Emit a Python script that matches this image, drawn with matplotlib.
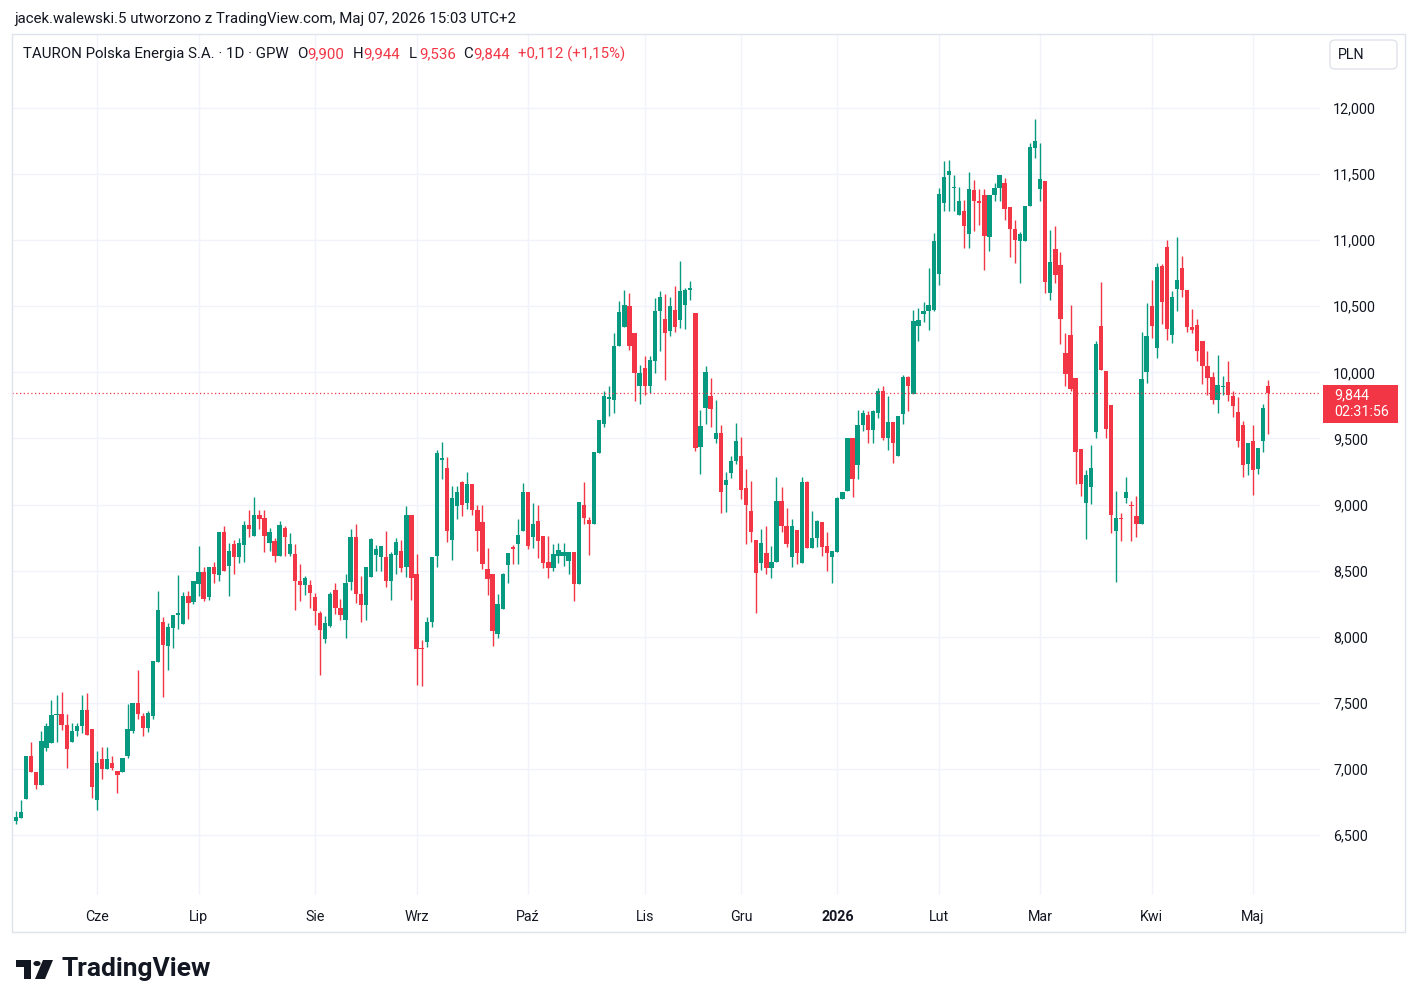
import numpy as np
import matplotlib.pyplot as plt
from matplotlib.patches import Rectangle, FancyBboxPatch, Polygon, Circle

W, H = 1417, 1007

# daily OHLC (PLN)
opens = [6606, 6626, 6775, 7099, 6977, 6879, 7157, 7194, 7407, 7414, 7331, 7205, 7283, 7321, 7447, 7305,
         6763, 7073, 6998, 7048, 6985, 6977, 7100, 7290, 7500, 7400, 7310, 7400, 7806, 8109, 7932, 8066,
         8167, 8096, 8311, 8260, 8399, 8492, 8303, 8530, 8470, 8790, 8533, 8702, 8604, 8697, 8843, 8760,
         8919, 8899, 8710, 8727, 8609, 8823, 8626, 8626, 8424, 8394, 8394, 8298, 8179, 7985, 8081, 8350,
         8220, 8125, 8413, 8758, 8320, 8238, 8455, 8620, 8600, 8605, 8425, 8620, 8645, 8525, 8920, 8475,
         7912, 7963, 8113, 8613, 9338, 9277, 8728, 8987, 9171, 9013, 9156, 8962, 8869, 8514, 8471, 8017,
         8206, 8541, 8677, 8698, 8798, 9096, 8753, 8879, 8760, 8567, 8522, 8610, 8607, 8572, 8643, 8401,
         8996, 8880, 8854, 9391, 9610, 9800, 9794, 10198, 10341, 10500, 10298, 9895, 10034, 9894, 10083, 10462,
         10404, 10316, 10475, 10399, 10513, 10626, 10450, 9432, 9730, 9818, 9498, 9541, 9149, 9238, 9326, 9371,
         9124, 8952, 8730, 8560, 8630, 8518, 8568, 9025, 8835, 8605, 8805, 8560, 9168, 8668, 8750, 8868,
         8685, 8605, 8643, 9043, 9100, 9505, 9300, 9605, 9681, 9567, 9693, 9862, 9504, 9625, 9366, 9688,
         9963, 9837, 10348, 10442, 10462, 10474, 10744, 11281, 11495, 11395, 11193, 11218, 11043, 11383, 11300, 11343,
         11025, 11343, 11393, 11433, 11250, 11083, 10993, 10993, 11258, 11700, 11388, 11450, 10600, 10933, 10813, 10149,
         10283, 9960, 9417, 9013, 9131, 9551, 10351, 10010, 9753, 8798, 8899, 9051, 9000, 8912, 8854, 10005,
         10503, 10187, 10806, 10950, 10281, 10628, 10787, 10620, 10342, 10357, 10236, 10046, 9963, 9793, 9890, 9927,
         9818, 9700, 9598, 9305, 9477, 9270, 9482, 9900]
highs = [6682, 6765, 7099, 7200, 6977, 7288, 7346, 7523, 7561, 7583, 7414, 7351, 7346, 7558, 7571, 7305,
         7136, 7162, 7167, 7098, 6985, 7086, 7490, 7500, 7748, 7420, 7440, 7818, 8349, 8152, 8101, 8167,
         8470, 8341, 8349, 8419, 8689, 8530, 8530, 8563, 8790, 8841, 8710, 8735, 8747, 8879, 8962, 9056,
         8955, 8955, 8823, 8750, 8879, 8836, 8785, 8702, 8551, 8457, 8432, 8331, 8197, 8154, 8338, 8405,
         8288, 8475, 8813, 8855, 8463, 8525, 8745, 8695, 8688, 8800, 8638, 8750, 8730, 8988, 8920, 8625,
         7975, 8150, 8605, 9413, 9474, 9358, 9139, 9139, 9181, 9247, 9156, 9000, 9000, 8672, 8471, 8320,
         8483, 8635, 8693, 8887, 9164, 9096, 9013, 9000, 8760, 8761, 8698, 8711, 8711, 8643, 8643, 9021,
         9172, 8905, 9399, 9643, 9857, 9895, 10298, 10543, 10626, 10601, 10298, 10054, 10122, 10121, 10563, 10619,
         10593, 10568, 10651, 10841, 10639, 10689, 10450, 9717, 10046, 9957, 9793, 9604, 9245, 9364, 9616, 9508,
         9270, 9179, 8730, 8818, 8835, 8685, 9205, 9135, 8975, 8893, 8805, 9205, 9180, 8950, 8880, 8868,
         8793, 8650, 9060, 9093, 9505, 9505, 9718, 9718, 9706, 9718, 9882, 9895, 9819, 9625, 9668, 9978,
         9970, 10474, 10487, 10532, 10789, 11054, 11394, 11596, 11608, 11495, 11399, 11306, 11518, 11458, 11388, 11388,
         11343, 11433, 11493, 11468, 11250, 11150, 11063, 11258, 11738, 11913, 11738, 11450, 11075, 11108, 10914, 10301,
         10510, 9960, 9417, 9265, 9450, 10237, 10687, 10010, 9753, 9106, 8937, 9207, 9025, 9063, 10308, 10528,
         10697, 10831, 10823, 11000, 10615, 11025, 10881, 10620, 10476, 10400, 10236, 10160, 10003, 10135, 9970, 10089,
         9856, 9811, 9634, 9464, 9603, 9431, 9760, 9944]
lows = [6581, 6626, 6770, 6977, 6846, 6879, 7136, 7194, 7207, 7293, 7005, 7205, 7250, 7275, 7255, 6778,
        6687, 6922, 6998, 6990, 6816, 6977, 7080, 7270, 7380, 7250, 7280, 7380, 7806, 7546, 7748, 7914,
        8058, 8096, 8134, 8250, 8311, 8268, 8280, 8404, 8424, 8500, 8306, 8475, 8558, 8566, 8753, 8760,
        8818, 8641, 8647, 8566, 8609, 8609, 8609, 8205, 8273, 8318, 8217, 8091, 7707, 7952, 8075, 8175,
        8125, 7988, 8350, 8255, 8113, 8125, 8455, 8500, 8500, 8375, 8275, 8475, 8488, 8455, 8280, 7638,
        7625, 7920, 8075, 8525, 9197, 8718, 8577, 8887, 8912, 8970, 8924, 8652, 8509, 8315, 7929, 7992,
        8206, 8408, 8551, 8551, 8798, 8660, 8672, 8597, 8521, 8446, 8497, 8560, 8535, 8476, 8270, 8401,
        8849, 8618, 8854, 9391, 9585, 9668, 9694, 10198, 10341, 10172, 9787, 9757, 9832, 9843, 9995, 10164,
        9945, 10273, 10306, 10336, 10331, 10550, 9407, 9230, 9609, 9583, 9465, 8935, 8942, 9200, 9306, 9043,
        8700, 8720, 8180, 8505, 8475, 8443, 8568, 8793, 8675, 8530, 8550, 8560, 8668, 8668, 8680, 8610,
        8500, 8410, 8643, 9043, 9100, 9055, 9193, 9555, 9466, 9466, 9655, 9492, 9416, 9315, 9366, 9610,
        9706, 9837, 10240, 10381, 10323, 10462, 10663, 11218, 11218, 11218, 11193, 10941, 10938, 11068, 11118, 10775,
        10918, 11300, 11300, 11150, 10875, 10825, 10675, 10993, 11258, 11625, 11300, 10600, 10550, 10675, 10212, 9897,
        9859, 9157, 9063, 8743, 9005, 9500, 10015, 9500, 8786, 8414, 8722, 9013, 8722, 8753, 8854, 9922,
        10263, 10111, 10364, 10242, 10223, 10464, 10570, 10307, 10299, 10084, 9912, 9831, 9760, 9692, 9831, 9786,
        9659, 9439, 9211, 9224, 9072, 9229, 9401, 9536]
closes = [6639, 6674, 7099, 6977, 6879, 7212, 7321, 7407, 7414, 7331, 7149, 7283, 7321, 7447, 7255, 6866,
          7048, 6998, 7073, 7005, 6952, 7086, 7300, 7500, 7414, 7310, 7424, 7818, 8205, 7940, 8071, 8167,
          8177, 8311, 8253, 8419, 8492, 8285, 8530, 8475, 8790, 8500, 8647, 8604, 8710, 8843, 8818, 8919,
          8894, 8760, 8793, 8614, 8843, 8753, 8702, 8419, 8394, 8444, 8331, 8197, 8053, 8104, 8323, 8220,
          8163, 8405, 8758, 8320, 8238, 8525, 8738, 8663, 8688, 8425, 8625, 8720, 8520, 8920, 8445, 7905,
          7905, 8113, 8605, 9388, 9353, 8798, 9050, 9096, 9000, 9156, 8955, 8803, 8551, 8433, 8047, 8244,
          8471, 8635, 8667, 8773, 9096, 8685, 8854, 8723, 8559, 8522, 8628, 8653, 8643, 8643, 8401, 9021,
          8895, 8854, 9399, 9643, 9820, 9805, 10198, 10457, 10508, 10198, 9996, 9996, 9895, 10096, 10462, 10568,
          10298, 10500, 10341, 10619, 10626, 10634, 9427, 9591, 10003, 9725, 9541, 9094, 9187, 9326, 9482, 9111,
          8993, 8791, 8485, 8710, 8518, 8568, 9030, 8835, 8705, 8835, 8630, 9168, 8668, 8748, 8875, 8680,
          8630, 8650, 9050, 9093, 9505, 9193, 9600, 9693, 9567, 9706, 9862, 9504, 9625, 9466, 9668, 9963,
          9895, 10386, 10399, 10467, 10507, 10991, 11349, 11475, 11525, 11400, 11293, 11104, 11388, 11300, 11283, 11033,
          11343, 11393, 11493, 11238, 11083, 11000, 11050, 11258, 11708, 11750, 11463, 10683, 10833, 10738, 10402, 9985,
          9871, 9399, 9152, 9227, 9278, 10212, 10015, 9568, 8919, 8899, 8887, 9096, 8988, 8854, 9947, 10275,
          10351, 10798, 10535, 10326, 10570, 10696, 10620, 10342, 10317, 10160, 10046, 9958, 9793, 9902, 9898, 9826,
          9743, 9477, 9300, 9464, 9262, 9431, 9730, 9844]

month_labels = ["Cze", "Lip", "Sie", "Wrz", "Paź", "Lis", "Gru", "2026", "Lut", "Mar", "Kwi", "Maj"]
month_first_bar = [16, 36, 59, 79, 101, 124, 143, 162, 182, 202, 224, 244]
price_ticks = [6500, 7000, 7500, 8000, 8500, 9000, 9500, 10000, 10500, 11000, 11500, 12000]
last_price = 9844
countdown = "02:31:56"

GREEN = "#089981"
RED = "#f23645"
TEXT = "#131722"
GRID = "#f0f3fa"
FONT = "Roboto"

plt.rcParams["font.family"] = [FONT, "DejaVu Sans"]


def fx(px):
    return px / W


def fy(py):
    return 1 - py / H


fig = plt.figure(figsize=(W / 100, H / 100), dpi=100)
fig.patch.set_facecolor("white")

# outer chart frame
fig.patches.append(Rectangle((fx(12), fy(932)), fx(1405) - fx(12), fy(34) - fy(932),
                             transform=fig.transFigure, fill=False, edgecolor="#e0e3eb", lw=1))

ax = fig.add_axes([fx(12), fy(895), fx(1320) - fx(12), fy(34) - fy(895)])
step = 5.07
ax.set_xlim((12 - 16) / step, (1320 - 16) / step)
ax.set_ylim(12000 - (895 - 108) / 0.13218, 12000 + (108 - 34) / 0.13218)
for s in ax.spines.values():
    s.set_visible(False)

ax.set_yticks(price_ticks)
ax.set_yticklabels([f"{p:,}" for p in price_ticks])
ax.yaxis.tick_right()
ax.tick_params(axis="y", length=0, pad=9.5, labelsize=10.3, labelcolor=TEXT)
ax.set_xticks(month_first_bar)
ax.set_xticklabels(month_labels)
ax.tick_params(axis="x", length=0, pad=10.5, labelsize=10.3, labelcolor=TEXT)
for lbl in ax.get_xticklabels():
    if lbl.get_text().isdigit():
        lbl.set_fontweight("bold")
ax.grid(True, color=GRID, lw=1)
ax.set_axisbelow(True)

o = np.array(opens, dtype=float)
h = np.array(highs, dtype=float)
l = np.array(lows, dtype=float)
c = np.array(closes, dtype=float)
x = np.arange(len(o))
cols = np.where(c >= o, GREEN, RED)

ax.vlines(x, l, h, colors=cols, lw=1)
ax.bar(x, np.maximum(np.abs(c - o), 10), bottom=np.minimum(o, c), width=0.85, color=cols, lw=0)

ax.axhline(last_price, color=RED, lw=0.9, ls=(0, (1, 2)))

# last price label on price scale
y_last = 108 + (12000 - last_price) * 0.13218
fig.patches.append(Rectangle((fx(1323), fy(y_last + 30)), fx(1398) - fx(1323), fy(y_last - 8) - fy(y_last + 30),
                             transform=fig.transFigure, facecolor=RED, edgecolor="none"))
fig.text(fx(1334), fy(y_last + 2), f"{last_price:,}", color="white", fontsize=10.3, va="center")
fig.text(fx(1334), fy(y_last + 19), countdown, color="white", fontsize=10.3, va="center")

# currency box
fig.patches.append(FancyBboxPatch((fx(1330), fy(69)), fx(1397) - fx(1330), fy(40) - fy(69),
                                  boxstyle="round,pad=0,rounding_size=0.004", transform=fig.transFigure,
                                  facecolor="white", edgecolor="#e0e3eb", lw=1))
fig.text(fx(1351), fy(55), "PLN", color=TEXT, fontsize=10.3, ha="center", va="center")

# header lines
fig.text(fx(14), fy(19), "jacek.walewski.5 utworzono z TradingView.com, Maj 07, 2026 15:03 UTC+2",
         color=TEXT, fontsize=10.8, va="center")
fig.text(fx(23), fy(54), "TAURON Polska Energia S.A. · 1D · GPW", color=TEXT, fontsize=10.8, va="center")
for lab, val, px in [("O", "9,900", 297), ("H", "9,944", 353), ("L", "9,536", 409), ("C", "9,844", 463)]:
    fig.text(fx(px), fy(54), lab, color=TEXT, fontsize=10.8, va="center")
    fig.text(fx(px + 10), fy(54), val, color=RED, fontsize=10.8, va="center")
fig.text(fx(518), fy(54), "+0,112 (+1,15%)", color=RED, fontsize=10.8, va="center")

# TradingView logo
logo = [Polygon([(16, 960), (31, 960), (31, 979), (24, 979), (24, 967), (16, 967)]),
        Polygon([(43, 960), (53, 960), (45, 979), (35, 979)])]
for p in logo:
    pts = [(fx(a), fy(b)) for a, b in p.get_xy()]
    fig.patches.append(Polygon(pts, closed=True, transform=fig.transFigure, facecolor=TEXT, edgecolor="none"))
fig.patches.append(Circle((fx(37), fy(963.5)), 3.6 / W, transform=fig.transFigure, facecolor=TEXT))
fig.text(fx(61), fy(969), "TradingView", color=TEXT, fontsize=19, fontweight="bold", va="center")

fig.savefig("out.png", dpi=100, facecolor="white")
